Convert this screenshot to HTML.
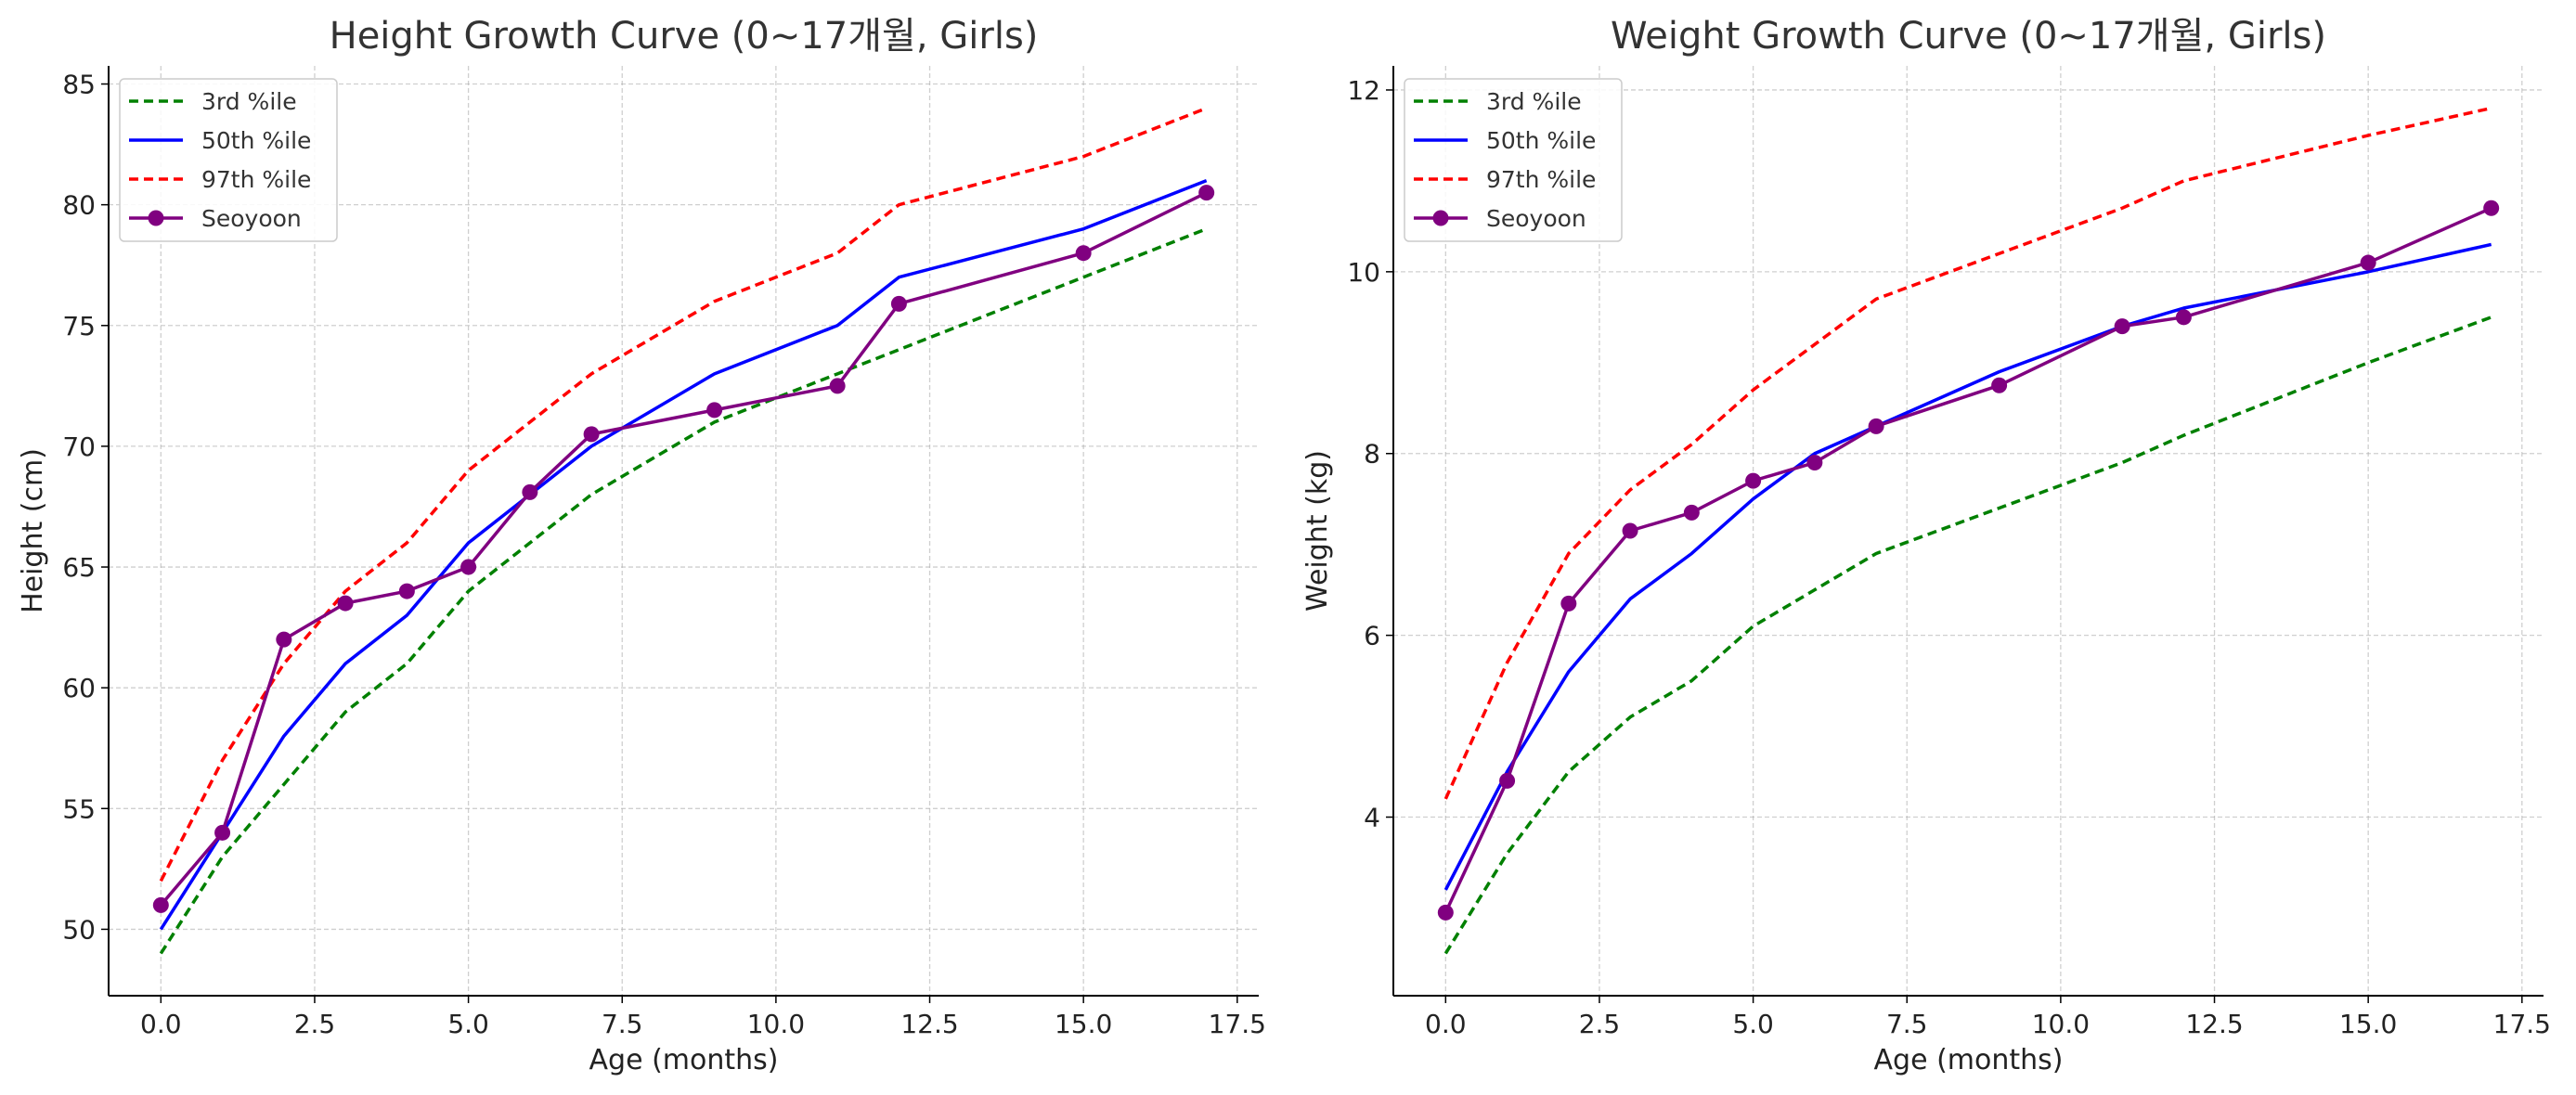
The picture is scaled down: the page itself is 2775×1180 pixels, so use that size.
<!DOCTYPE html>
<html><head><meta charset="utf-8"><style>html,body{margin:0;padding:0;background:#fff}svg{display:block}</style></head>
<body>
<svg id="chart" width="2775" height="1180" xmlns="http://www.w3.org/2000/svg" font-family="'DejaVu Sans','Liberation Sans','Noto Sans CJK KR',sans-serif"></svg>
<script>
const ages = [0,1,2,3,4,5,6,7,9,11,12,15,17];
const h3 = [49,53,56,59,61,64,66,68,71,73,74,77,79];
const h50 = [50,54,58,61,63,66,68,70,73,75,77,79,81];
const h97 = [52,57,61,64,66,69,71,73,76,78,80,82,84];
const hS = [51,54,62,63.5,64,65,68.1,70.5,71.5,72.5,75.9,78,80.5];
const w3 = [2.5,3.6,4.5,5.1,5.5,6.1,6.5,6.9,7.4,7.9,8.2,9.0,9.5];
const w50 = [3.2,4.5,5.6,6.4,6.9,7.5,8.0,8.3,8.9,9.4,9.6,10.0,10.3];
const w97 = [4.2,5.7,6.9,7.6,8.1,8.7,9.2,9.7,10.2,10.7,11.0,11.5,11.8];
const wS = [2.95,4.4,6.35,7.15,7.35,7.7,7.9,8.3,8.75,9.4,9.5,10.1,10.7];
const xTicks = [0,2.5,5,7.5,10,12.5,15,17.5];
const xTickLabels = ["0.0","2.5","5.0","7.5","10.0","12.5","15.0","17.5"];
const hTicks = [50,55,60,65,70,75,80,85];
const wTicks = [4,6,8,10,12];
const legendLabels = ["3rd %ile","50th %ile","97th %ile","Seoyoon"];

const NS="http://www.w3.org/2000/svg";
const svg=document.getElementById('chart');
function mk(tag,attrs,parent){const e=document.createElementNS(NS,tag);for(const k in attrs)e.setAttribute(k,attrs[k]);(parent||svg).appendChild(e);return e;}

function panel(o){
  const g=mk('g',{});
  
  
  const L=o.L,R=o.R,T=71,B=1073;
  const xs=v=>L+(v-(-0.85))/(17.85-(-0.85))*(R-L);
  const ys=v=>B-(v-o.ymin)/(o.ymax-o.ymin)*(B-T);
  // grid
  xTicks.forEach((t,i)=>{
    const x=xs(t);
    const gl=mk('line',{x1:x,x2:x,y1:T,y2:B,stroke:'#b0b0b0','stroke-width':1.3,'stroke-dasharray':'5,3',opacity:0.6},g);
    
    
    mk('line',{x1:x,x2:x,y1:B,y2:B+8,stroke:'#000','stroke-width':1.5},g);
    const tx=mk('text',{x:x,y:B+40,'font-size':28,'text-anchor':'middle',fill:'#222'},g);
    tx.textContent=xTickLabels[i];
    
    
  });
  o.yTicks.forEach(t=>{
    const y=ys(t);
    const gl=mk('line',{x1:L,x2:R,y1:y,y2:y,stroke:'#b0b0b0','stroke-width':1.3,'stroke-dasharray':'5,3',opacity:0.6},g);
    
    
    mk('line',{x1:L-8,x2:L,y1:y,y2:y,stroke:'#000','stroke-width':1.5},g);
    const tx=mk('text',{x:L-14,y:y+10,'font-size':28,'text-anchor':'end',fill:'#222'},g);
    tx.textContent=String(t);
    
    
  });
  // spines
  mk('line',{x1:L,x2:L,y1:T,y2:B,stroke:'#000','stroke-width':2},g);
  mk('line',{x1:L,x2:R,y1:B,y2:B,stroke:'#000','stroke-width':2},g);
  const series=[[o.s3,'green','10,6',false,'series-3rd'],[o.s50,'blue','',false,'series-50th'],[o.s97,'red','10,6',false,'series-97th'],[o.sS,'purple','',true,'series-seoyoon']];
  series.forEach(s=>{
    const pts=ages.map((a,i)=>xs(a)+','+ys(s[0][i])).join(' ');
    const pl=mk('polyline',{points:pts,fill:'none',stroke:s[1],'stroke-width':3.5,'stroke-dasharray':s[2],'stroke-linejoin':'round'},g);
    
    
    if(s[3]) ages.forEach((a,i)=>{
      const c=mk('circle',{cx:xs(a),cy:ys(s[0][i]),r:8.5,fill:'purple'},g);
      
      
    });
  });
  // title & labels
  const tt=mk('text',{x:(L+R)/2,y:52,'font-size':40,'text-anchor':'middle',fill:'#333'},g);
  tt.textContent=o.title;
  
  
  const xl=mk('text',{x:(L+R)/2,y:1152,'font-size':30,'text-anchor':'middle',fill:'#222'},g);
  xl.textContent='Age (months)';
  
  
  const yl=mk('text',{x:0,y:0,'font-size':30,'text-anchor':'middle',fill:'#222',transform:`translate(${L-72},${(T+B)/2}) rotate(-90)`},g);
  yl.textContent=o.ylabel;
  
  
  // legend
  const lg=mk('g',{},g);
  
  
  const lx=L+12, ly=85;
  mk('rect',{x:lx,y:ly,width:234,height:175,rx:5,fill:'#fff','fill-opacity':0.85,stroke:'#ccc','stroke-width':1.5},lg);
  const cols=['green','blue','red','purple'], dash=['10,6','','10,6',''];
  legendLabels.forEach((lab,i)=>{
    const y=ly+24+i*42;
    mk('line',{x1:lx+10,x2:lx+68,y1:y,y2:y,stroke:cols[i],'stroke-width':3.5,'stroke-dasharray':dash[i]},lg);
    if(i===3) mk('circle',{cx:lx+39,cy:y,r:8.5,fill:'purple'},lg);
    const t=mk('text',{x:lx+88,y:y+9,'font-size':25,fill:'#333'},lg);
    t.textContent=lab;
    
    
  });
}
panel({name:'height-panel',L:117,R:1356,ymin:47.25,ymax:85.75,yTicks:hTicks,s3:h3,s50:h50,s97:h97,sS:hS,title:'Height Growth Curve (0~17개월, Girls)',ylabel:'Height (cm)'});
panel({name:'weight-panel',L:1501,R:2740,ymin:2.035,ymax:12.265,yTicks:wTicks,s3:w3,s50:w50,s97:w97,sS:wS,title:'Weight Growth Curve (0~17개월, Girls)',ylabel:'Weight (kg)'});
</script>
</body></html>
